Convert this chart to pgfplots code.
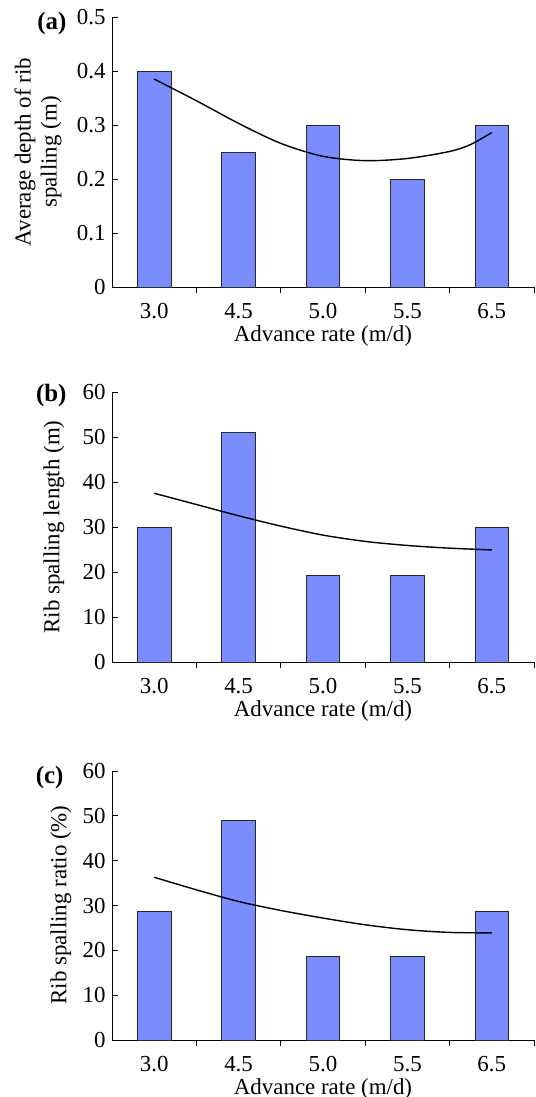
\documentclass[border=0pt]{standalone}
\usepackage{pgfplots}
\pgfplotsset{compat=1.18}
\usepackage{fontspec}
\setmainfont{Liberation Serif}
\definecolor{barblue}{RGB}{123,140,255}
\definecolor{edge}{RGB}{40,40,40}
\pgfplotsset{
  panel/.style={
    scale only axis, width=422bp, anchor=south west,
    axis x line=bottom, axis y line=left,
    axis line style={-, line width=0.9bp, black},
    xmin=-0.5, xmax=4.5, ymin=0,
    xtick={0,1,2,3,4},
    xticklabels={3.0,4.5,5.0,5.5,6.5},
    major x tick style={draw=none},
    minor xtick={0.5,1.5,2.5,3.5,4.5},
    minor tick length=6bp,
    major tick length=6bp,
    tick align=inside,
    tick style={line width=0.9bp, black},
    /pgf/number format/assume math mode=true,
    tick label style={font=\fontsize{23}{27}\selectfont},
    xticklabel style={yshift=-7bp},
    yticklabel style={xshift=-3bp},
    xlabel={Advance rate (m/d)},
    xlabel style={font=\fontsize{23}{27}\selectfont, at={(axis description cs:0.5,0)}, anchor=base, yshift=-54bp},
    ybar, bar width=33.5bp,
  },
  bars/.style={fill=barblue, draw=edge, line width=0.9bp},
  fit/.style={sharp plot, smooth, black, line width=1.4bp, mark=none},
}
\begin{document}
\begin{tikzpicture}
\useasboundingbox (0,0) rectangle (536bp,-1097bp);
% panel (a)
\begin{axis}[panel, at={(112bp,-287bp)}, height=270bp, ymax=0.5,
  ytick={0,0.1,0.2,0.3,0.4,0.5}, yticklabels={0,0.1,0.2,0.3,0.4,0.5}]
\addplot[bars] coordinates {(0,0.4) (1,0.25) (2,0.3) (3,0.2) (4,0.3)};
\addplot[fit] coordinates {(0,0.385) (0.5,0.345) (1,0.303) (1.5,0.266) (2,0.242) (2.5,0.234) (3,0.238) (3.5,0.251) (3.75,0.264) (4,0.286)};
\end{axis}
\node[rotate=90, align=center, font=\fontsize{23}{26}\selectfont] at (38bp,-152bp) {Average depth of rib\\spalling (m)};
\node[anchor=east, font=\fontsize{25}{29}\selectfont\bfseries] at (70bp,-24bp) {(a)};
% panel (b)
\begin{axis}[panel, at={(112bp,-662bp)}, height=270bp, ymax=60,
  ytick={0,10,20,30,40,50,60}]
\addplot[bars] coordinates {(0,30) (1,51) (2,19.3) (3,19.3) (4,30)};
\addplot[fit] coordinates {(0,37.5) (0.5,35.0) (1,32.5) (1.5,30.2) (2,28.2) (2.5,26.8) (3,25.9) (3.5,25.3) (4,24.9)};
\end{axis}
\node[rotate=90, font=\fontsize{23}{27}\selectfont] at (54bp,-527bp) {Rib spalling length (m)};
\node[anchor=east, font=\fontsize{25}{29}\selectfont\bfseries] at (70bp,-396bp) {(b)};
% panel (c)
\begin{axis}[panel, at={(112bp,-1040bp)}, height=269bp, ymax=60,
  ytick={0,10,20,30,40,50,60}]
\addplot[bars] coordinates {(0,28.6) (1,48.9) (2,18.7) (3,18.7) (4,28.6)};
\addplot[fit] coordinates {(0,36.3) (0.5,33.5) (1,30.9) (1.5,28.9) (2,27.2) (2.5,25.7) (3,24.6) (3.5,24.0) (4,23.9)};
\end{axis}
\node[rotate=90, font=\fontsize{23}{27}\selectfont] at (61bp,-905bp) {Rib spalling ratio (\%)};
\node[anchor=east, font=\fontsize{25}{29}\selectfont\bfseries] at (67bp,-777bp) {(c)};
\end{tikzpicture}
\end{document}
